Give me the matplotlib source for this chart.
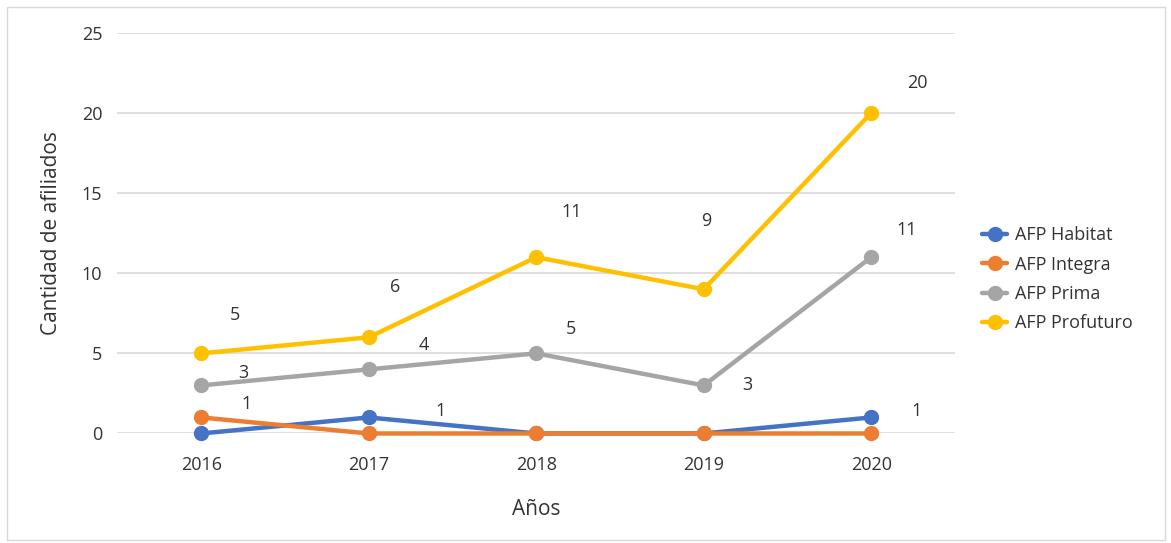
import matplotlib.pyplot as plt
from matplotlib.patches import Rectangle

years = ["2016", "2017", "2018", "2019", "2020"]
habitat = [0, 1, 0, 0, 1]
integra = [1, 0, 0, 0, 0]
prima = [3, 4, 5, 3, 11]
profuturo = [5, 6, 11, 9, 20]
names = ["AFP Habitat", "AFP Integra", "AFP Prima", "AFP Profuturo"]
colors = ["#4472C4", "#ED7D31", "#A5A5A5", "#FFC000"]

# label offsets in pixels (dx, dy up), hand placed like the original
offsets = [
    [None, (72, 6), None, None, (45, 6)],
    [(45, 13), None, None, None, None],
    [(42, 12), (55, 24), (35, 24), (44, 0), (35, 27)],
    [(34, 38), (26, 50), (35, 45), (3, 68), (46, 30)],
]

plt.rcParams['font.family'] = ['Open Sans', 'DejaVu Sans']
txt = "#333333"

fig = plt.figure(figsize=(11.71, 5.43), dpi=100)
ax = fig.add_axes([0.1003, 0.2017, 0.7152, 0.7377])

x = list(range(len(years)))
series = [habitat, integra, prima, profuturo]
for vals, name, col, offs in zip(series, names, colors, offsets):
    ax.plot(x, vals, color=col, lw=3.2, marker="o", ms=10, label=name,
            solid_capstyle="round", zorder=3, clip_on=False)
    for xi, v, o in zip(x, vals, offs):
        if o is None:
            continue
        ax.annotate(str(v), (xi, v), xytext=(o[0] * 0.72, o[1] * 0.72),
                    textcoords="offset points", ha="center", va="center",
                    fontsize=13, color=txt)

ax.set_xlim(-0.5, len(years) - 0.5)
ax.set_ylim(0, 25)
ax.set_yticks([0, 5, 10, 15, 20, 25])
ax.set_xticks(x)
ax.set_xticklabels(years)
ax.grid(axis="y", color="#D9D9D9", lw=1.2, zorder=0)
for s in ax.spines.values():
    s.set_visible(False)
ax.tick_params(length=0, labelsize=13, colors=txt)
ax.tick_params(axis="y", pad=11)
ax.tick_params(axis="x", pad=16)
ax.set_xlabel("Años", fontsize=15, color=txt, labelpad=18)
ax.set_ylabel("Cantidad de afiliados", fontsize=15, color=txt, labelpad=14)

ax.legend(loc="center left", bbox_to_anchor=(1.0, 0.385), frameon=False,
          fontsize=13, labelcolor=txt, handlelength=1.4, handletextpad=0.4,
          labelspacing=0.62, borderaxespad=1.1)

fig.patches.append(Rectangle((0.006, 0.005), 0.989, 0.982, transform=fig.transFigure,
                             fill=False, ec="#D9D9D9", lw=1))

fig.savefig("out.png", dpi=100)
